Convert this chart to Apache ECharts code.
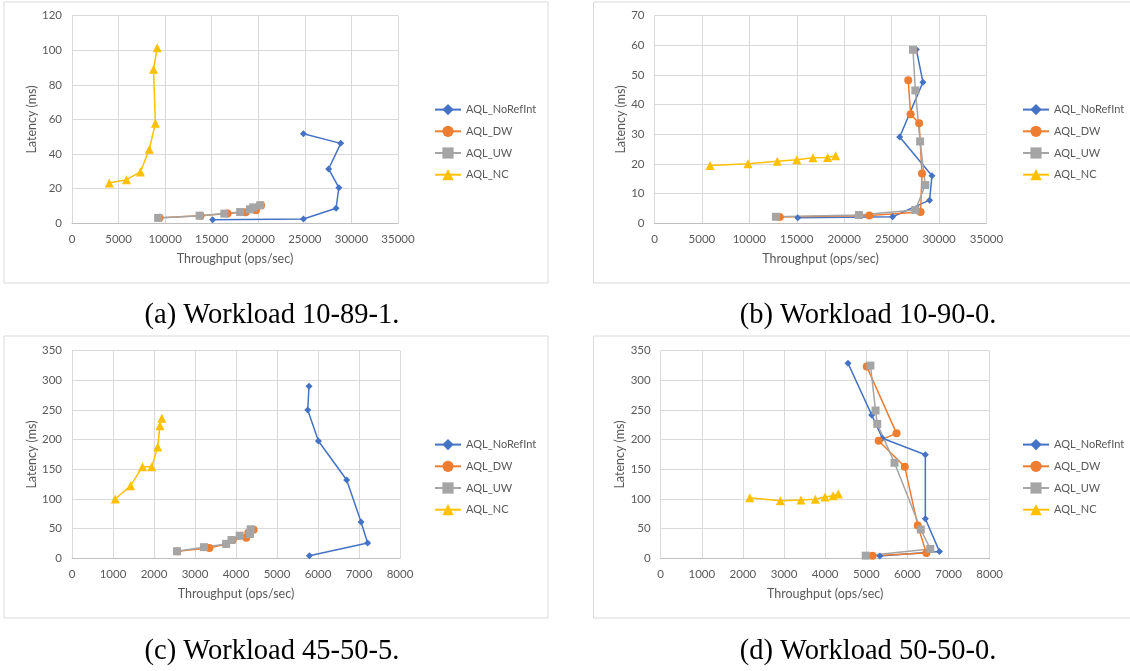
<!DOCTYPE html>
<html>
<head>
<meta charset="utf-8">
<script src="https://cdn.jsdelivr.net/npm/echarts@6/dist/echarts.min.js"></script>
<style>
  html, body { margin: 0; padding: 0; background: #fff; }
  #chart { width: 1130px; height: 671px; }
</style>
</head>
<body>
<div id="chart"></div>
<script>
// series names, same in every panel
var seriesNames = ['AQL_NoRefInt', 'AQL_DW', 'AQL_UW', 'AQL_NC'];
var captions = ['(a) Workload 10-89-1.', '(b) Workload 10-90-0.', '(c) Workload 45-50-5.', '(d) Workload 50-50-0.'];

// (a) workload 10-89-1   [throughput, latency]
var aNoRefInt = [[15100,2.1],[24850,2.5],[28350,8.7],[28650,20.6],[27550,31.4],[28850,46.2],[24850,51.8]];
var aDW = [[9400,3.2],[13800,4.3],[16700,5.6],[18650,6.4],[19750,7.5],[20300,10.4]];
var aUW = [[9250,3.1],[13700,4.4],[16350,5.6],[18050,6.5],[19100,8.1],[19450,9.2],[20200,10.4]];
var aNC = [[4000,23.3],[5850,25.2],[7350,29.7],[8300,42.8],[8950,57.8],[8750,89.0],[9150,101.5]];

// (b) workload 10-90-0
var bNoRefInt = [[15100,1.9],[25100,2.2],[29000,7.8],[29250,16.0],[25850,29.1],[28300,47.6],[27600,58.6]];
var bDW = [[13200,2.1],[22650,2.6],[28050,3.8],[28200,16.8],[27900,33.7],[27000,36.8],[26750,48.2]];
var bUW = [[12800,2.2],[21550,2.8],[27500,4.5],[28550,12.9],[28000,27.6],[27500,44.8],[27250,58.5]];
var bNC = [[5850,19.5],[9850,20.1],[12950,20.9],[15000,21.4],[16700,22.1],[18250,22.2],[19100,22.8]];

// (c) workload 45-50-5
var cNoRefInt = [[5790,4.4],[7210,25.8],[7050,61.2],[6700,132],[6010,197.7],[5750,250],[5780,290]];
var cDW = [[2570,11.8],[3350,17.4],[3760,24.1],[3920,30.9],[4250,34.7],[4300,43.2],[4430,48.3]];
var cUW = [[2560,11.8],[3220,18.8],[3760,24.3],[3890,30.9],[4090,38.1],[4340,40.9],[4360,48.9]];
var cNC = [[1055,100],[1430,122.4],[1720,154.5],[1945,154.5],[2090,187.6],[2145,223.6],[2190,236]];

// (d) workload 50-50-0
var dNoRefInt = [[5330,4.0],[6780,11.3],[6435,66.7],[6435,174.6],[5390,202.3],[5130,241.8],[4555,328.8]];
var dDW = [[5150,4.5],[6460,9.0],[6250,55.4],[5935,154.2],[5300,198.3],[5735,210.7],[5010,323.2]];
var dUW = [[4985,4.5],[6555,15.8],[6325,48.6],[5685,161.0],[5265,226.6],[5225,249.2],[5100,324.9]];
var dNC = [[2165,102.2],[2910,97.1],[3410,98.3],[3760,99.4],[3995,103.3],[4190,105.5],[4320,108.4]];

// axis ranges per panel
var xMax = [35000, 35000, 8000, 8000];
var xStep = [5000, 5000, 1000, 1000];
var yMax = [120, 70, 350, 350];
var yStep = [20, 10, 50, 50];

var panelData = [
  [aNoRefInt, aDW, aUW, aNC],
  [bNoRefInt, bDW, bUW, bNC],
  [cNoRefInt, cDW, cUW, cNC],
  [dNoRefInt, dDW, dUW, dNC]
];

var colors = ['#4472C4', '#ED7D31', '#A5A5A5', '#FFC000'];
var symbols = ['diamond', 'circle', 'rect', 'triangle'];
var symbolSizes = [7, 8, 8, 9];
var FONT = 'Lato, "Noto Sans", sans-serif';

// layout of the 4 panels
var grids = [
  {left: 72,  top: 15.7,  width: 326, height: 207.6},
  {left: 654.5, top: 15.7, width: 332, height: 207.6},
  {left: 72,  top: 350.7, width: 328, height: 207.6},
  {left: 660.7, top: 350.7, width: 329, height: 207.6}
];
var yNameGap = [32, 27, 32, 33];
var legendPos = [{left: 429, top: 99}, {left: 1017, top: 99}, {left: 429, top: 434}, {left: 1017, top: 434}];
var boxes = [
  {x: 4, y: 2, w: 544, h: 281},
  {x: 593.5, y: 2, w: 560, h: 281},
  {x: 4, y: 336, w: 544, h: 282},
  {x: 593.5, y: 336, w: 560, h: 282}
];
var captionPos = [[272, 316], [868, 316], [272, 652], [868, 652]];

var chart = echarts.init(document.getElementById('chart'));

var xAxes = [], yAxes = [], series = [], legends = [], graphics = [];
for (var p = 0; p < 4; p++) {
  xAxes.push({
    gridIndex: p, type: 'value', min: 0, max: xMax[p], interval: xStep[p],
    name: 'Throughput (ops/sec)', nameLocation: 'middle', nameGap: 29,
    nameTextStyle: {color: '#595959', fontSize: 12.5, fontFamily: FONT},
    axisLine: {show: true, lineStyle: {color: '#bfbfbf', width: 1}},
    axisTick: {show: false},
    axisLabel: {color: '#595959', fontSize: 11.5, fontFamily: FONT, margin: 10,
      formatter: function (v) { return String(v); }},
    splitLine: {show: true, lineStyle: {color: '#d9d9d9', width: 1}}
  });
  yAxes.push({
    gridIndex: p, type: 'value', min: 0, max: yMax[p], interval: yStep[p],
    name: 'Latency (ms)', nameLocation: 'middle', nameGap: yNameGap[p],
    nameTextStyle: {color: '#595959', fontSize: 12.5, fontFamily: FONT},
    axisLine: {show: false},
    axisTick: {show: false},
    axisLabel: {color: '#595959', fontSize: 11.5, fontFamily: FONT, margin: 10,
      formatter: function (v) { return String(v); }},
    splitLine: {show: true, lineStyle: {color: '#d9d9d9', width: 1}}
  });
  for (var s = 0; s < 4; s++) {
    series.push({
      name: seriesNames[s], type: 'line',
      xAxisIndex: p, yAxisIndex: p,
      data: panelData[p][s],
      symbol: symbols[s], symbolSize: symbolSizes[s],
      showAllSymbol: true,
      itemStyle: {color: colors[s]},
      lineStyle: {color: colors[s], width: 1.5},
      animation: false
    });
  }
  legends.push({
    orient: 'vertical', left: legendPos[p].left, top: legendPos[p].top,
    itemWidth: 26, itemHeight: 14, itemGap: 10.5,
    data: seriesNames,
    textStyle: {color: '#595959', fontSize: 11, fontFamily: FONT}
  });
  graphics.push({
    type: 'rect', silent: true, z: -1,
    shape: {x: boxes[p].x, y: boxes[p].y, width: boxes[p].w, height: boxes[p].h},
    style: {fill: 'none', stroke: '#d9d9d9', lineWidth: 1}
  });
  graphics.push({
    type: 'text', silent: true,
    x: captionPos[p][0], y: captionPos[p][1],
    style: {
      text: captions[p], fill: '#000',
      font: '28.5px "Liberation Serif", serif',
      textAlign: 'center', textVerticalAlign: 'middle'
    }
  });
}

var option = {
  backgroundColor: '#fff',
  animation: false,
  grid: grids,
  xAxis: xAxes,
  yAxis: yAxes,
  legend: legends,
  series: series,
  graphic: graphics
};
chart.setOption(option);
</script>
</body>
</html>
